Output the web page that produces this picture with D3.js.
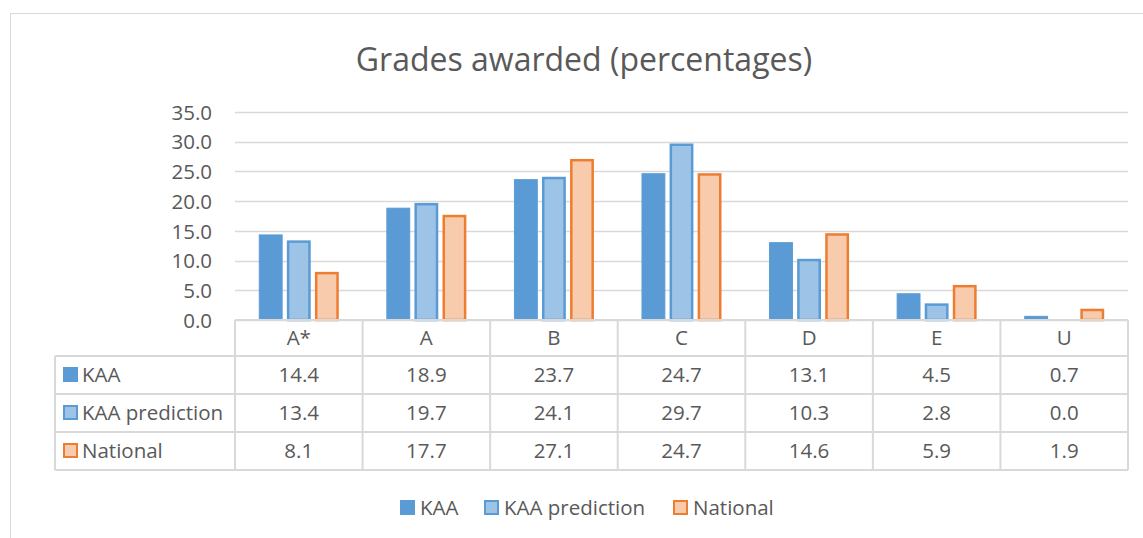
<!DOCTYPE html>
<html>
<head>
<meta charset="utf-8">
<script src="https://cdn.jsdelivr.net/npm/d3@7"></script>
<style>
  body { margin: 0; background: #fff; }
  text { font-family: "Open Sans", sans-serif; fill: #595959; }
</style>
</head>
<body>
<svg width="1143" height="538"></svg>
<script>
var categories = ["A*", "A", "B", "C", "D", "E", "U"];
var seriesNames = ["KAA", "KAA prediction", "National"];
var kaa = [14.4, 18.9, 23.7, 24.7, 13.1, 4.5, 0.7];
var kaaPrediction = [13.4, 19.7, 24.1, 29.7, 10.3, 2.8, 0.0];
var national = [8.1, 17.7, 27.1, 24.7, 14.6, 5.9, 1.9];
var yTicks = [0, 5, 10, 15, 20, 25, 30, 35];

var seriesValues = [kaa, kaaPrediction, national];
var fills = ["#5b9bd5", "#9dc3e6", "#f8cbad"];
var strokes = ["#5b9bd5", "#5b9bd5", "#ed7d31"];
var strokeW = [1, 2.5, 2.5];

var svg = d3.select("svg");
var plotLeft = 235, plotRight = 1128, plotTop = 112, plotBottom = 320;
var rowH = 38, headH = 36, tableLeft = 55;
var fontSize = "20.5px";

// chart border
svg.append("rect").attr("x", 10.5).attr("y", 13.5).attr("width", 1150).attr("height", 540)
    .attr("fill", "none").attr("stroke", "#d9d9d9");

svg.append("text").attr("x", 584).attr("y", 71).attr("text-anchor", "middle")
    .style("font-size", "32px").text("Grades awarded (percentages)");

var x = d3.scaleBand().domain(categories).range([plotLeft, plotRight]);
var xs = d3.scaleBand().domain(seriesNames).range([0, 80]).paddingInner(0.15);
var y = d3.scaleLinear().domain([0, 35]).range([plotBottom, plotTop]);

// gridlines
svg.append("g").selectAll("line").data(yTicks).enter().append("line")
    .attr("x1", plotLeft).attr("x2", plotRight)
    .attr("y1", function(d) { return Math.round(y(d)) + 0.5; })
    .attr("y2", function(d) { return Math.round(y(d)) + 0.5; })
    .attr("stroke", "#d9d9d9").attr("stroke-width", 1.5);

var yAxis = svg.append("g").attr("transform", "translate(" + (plotLeft - 20) + ",0)")
    .call(d3.axisLeft(y).tickValues(yTicks).tickSize(0).tickFormat(d3.format(".1f")));
yAxis.select(".domain").remove();
yAxis.selectAll("text").style("font-size", fontSize).attr("fill", "#595959").attr("dy", "0.35em")
    .style("font-family", "'Open Sans', sans-serif");

// bars
seriesNames.forEach(function(name, si) {
    var sw = strokeW[si];
    svg.append("g").selectAll("rect").data(seriesValues[si]).enter().append("rect")
        .attr("x", function(d, i) { return x(categories[i]) + x.bandwidth() / 2 - 40 + xs(name) + sw / 2; })
        .attr("y", function(d) { return y(d) + sw / 2; })
        .attr("width", xs.bandwidth() - sw)
        .attr("height", function(d) { return Math.max(0, y(0) - y(d) - sw / 2); })
        .attr("fill", fills[si])
        .attr("stroke", strokes[si])
        .attr("stroke-width", sw)
        .style("display", function(d) { return d > 0 ? null : "none"; });
});

// data table
var grid = svg.append("g").attr("stroke", "#d9d9d9").attr("stroke-width", 2);
var tableBottom = plotBottom + headH + rowH * 3;
grid.append("line").attr("x1", plotLeft).attr("x2", plotRight).attr("y1", plotBottom).attr("y2", plotBottom);
[0, 1, 2, 3].forEach(function(r) {
    var yy = plotBottom + headH + r * rowH;
    grid.append("line").attr("x1", tableLeft).attr("x2", plotRight).attr("y1", yy).attr("y2", yy);
});
grid.append("line").attr("x1", tableLeft).attr("x2", tableLeft).attr("y1", plotBottom + headH).attr("y2", tableBottom);
categories.concat(["end"]).forEach(function(c, i) {
    var xx = plotLeft + i * x.step();
    grid.append("line").attr("x1", xx).attr("x2", xx).attr("y1", plotBottom).attr("y2", tableBottom);
});

svg.append("g").selectAll("text").data(categories).enter().append("text")
    .attr("x", function(d) { return x(d) + x.bandwidth() / 2; })
    .attr("y", plotBottom + headH / 2 + 7)
    .attr("text-anchor", "middle").style("font-size", fontSize)
    .text(function(d) { return d; });

seriesNames.forEach(function(name, si) {
    var cy = plotBottom + headH + si * rowH + rowH / 2;
    svg.append("g").selectAll("text").data(seriesValues[si]).enter().append("text")
        .attr("x", function(d, i) { return x(categories[i]) + x.bandwidth() / 2; })
        .attr("y", cy + 7).attr("text-anchor", "middle").style("font-size", fontSize)
        .text(function(d) { return d.toFixed(1); });
    svg.append("rect").attr("x", si === 0 ? 63 : 64).attr("y", si === 0 ? cy - 8 : cy - 7)
        .attr("width", si === 0 ? 15 : 13).attr("height", si === 0 ? 15 : 13)
        .attr("fill", fills[si]).attr("stroke", strokes[si]).attr("stroke-width", si === 0 ? 0 : 2);
    svg.append("text").attr("x", 82).attr("y", cy + 7).style("font-size", fontSize).text(name);
});

// legend
var legendX = [401, 485, 674];
seriesNames.forEach(function(name, si) {
    var g = svg.append("g").attr("transform", "translate(" + legendX[si] + ",508)");
    g.append("rect").attr("x", si === 0 ? -1 : 0).attr("y", si === 0 ? -8 : -7)
        .attr("width", si === 0 ? 15 : 13).attr("height", si === 0 ? 15 : 13)
        .attr("fill", fills[si]).attr("stroke", strokes[si]).attr("stroke-width", si === 0 ? 0 : 2);
    g.append("text").attr("x", 19).attr("y", 7).style("font-size", fontSize).text(name);
});
</script>
</body>
</html>
